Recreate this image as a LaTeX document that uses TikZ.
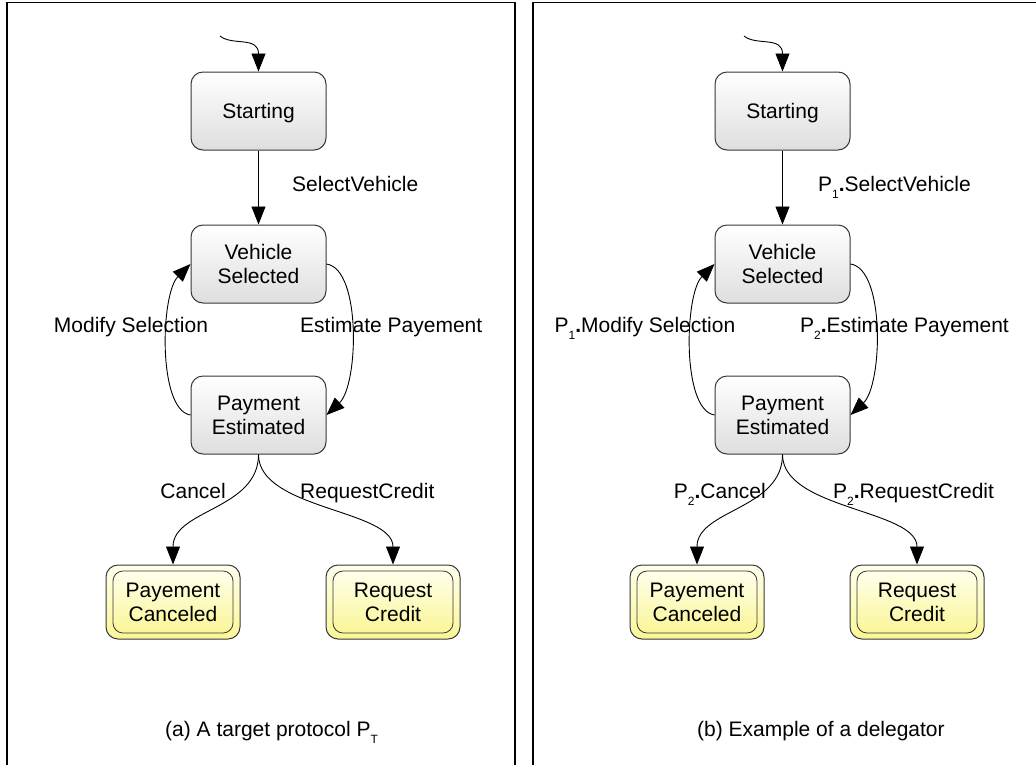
\documentclass[tikz,border=0pt]{standalone}
\usepackage{fontspec}
\setmainfont{Liberation Sans}
\usetikzlibrary{arrows.meta}

\definecolor{edgegray}{RGB}{55,55,55}
\definecolor{stateBot}{RGB}{222,222,222}
\definecolor{finTop}{RGB}{255,255,236}
\definecolor{finBot}{RGB}{250,246,150}

\newcommand\lowsub[1]{\raisebox{-7pt}{\fontsize{12}{12}\selectfont #1}}

\tikzset{
  txt/.style={font=\fontsize{21}{24}\selectfont},
  state/.style={txt, draw=edgegray, line width=1pt, rounded corners=12pt,
    minimum width=135pt, minimum height=78pt, inner sep=0pt, align=center,
    top color=white, bottom color=stateBot},
  finalout/.style={draw=edgegray, line width=1pt, rounded corners=12pt,
    minimum width=134pt, minimum height=74pt, inner sep=0pt,
    top color=finTop, bottom color=finBot},
  finalin/.style={txt, draw=edgegray, line width=0.8pt, rounded corners=10pt,
    minimum width=120pt, minimum height=62pt, inner sep=0pt, align=center,
    top color=finTop, bottom color=finBot},
  trans/.style={draw=black, line width=0.9pt, -{Triangle[length=18pt,width=14pt]}},
  lbl/.style={txt, inner sep=0pt},
  frame/.style={draw=black, line width=1.5pt}
}

\begin{document}
\begin{tikzpicture}[x=1pt, y=-1pt]
\useasboundingbox (0,0) rectangle (1036,764);

% panel frames, open at the bottom
\draw[frame] (7,780) -- (7,2.5) -- (515,2.5) -- (515,780);
\draw[frame] (533,780) -- (533,2.5) -- (1050,2.5);

% ---------- (a) target protocol ----------
\node[state, text depth=0pt] (aSt) at (258.5,111) {Starting};
\node[state] (aVs) at (258.5,264) {Vehicle\\Selected};
\node[state] (aPe) at (258.5,415) {Payment\\Estimated};
\node[finalout] (aPc) at (173,602) {};
\node[finalin] (aPcIn) at (173,602) {Payement\\Canceled};
\node[finalout] (aRc) at (393,602) {};
\node[finalin] (aRcIn) at (393,602) {Request\\Credit};

\coordinate (aInit) at (220,36);
\draw[trans] (aInit) .. controls (232,46) and (258.5,36) .. (aSt.north);
\draw[trans] (aSt.south) -- (aVs.north);
\draw[trans] (aPe.west) .. controls +(-33,-5) and +(-30,30) .. (aVs.west);
\draw[trans] (aVs.east) .. controls +(35,5) and +(32,-30) .. (aPe.east);
\draw[trans] (aPe.south) .. controls +(0,55) and +(0,-55) .. (aPc.north);
\draw[trans] (aPe.south) .. controls +(0,55) and +(0,-55) .. (aRc.north);

\node[lbl, anchor=base west] (aL1) at (292,191) {SelectVehicle};
\node[lbl, anchor=base] (aL2) at (131,332) {Modify Selection};
\node[lbl, anchor=base west] (aL3) at (300,332) {Estimate Payement};
\node[lbl, anchor=base east] (aL4) at (226,498) {Cancel};
\node[lbl, anchor=base west] (aL5) at (300,498) {RequestCredit};
\node[lbl, anchor=base west] (aCap) at (165,736) {(a) A target protocol P\lowsub{T}};

% ---------- (b) delegator ----------
\node[state, text depth=0pt] (bSt) at (782.5,111) {Starting};
\node[state] (bVs) at (782.5,264) {Vehicle\\Selected};
\node[state] (bPe) at (782.5,415) {Payment\\Estimated};
\node[finalout] (bPc) at (697,602) {};
\node[finalin] (bPcIn) at (697,602) {Payement\\Canceled};
\node[finalout] (bRc) at (917,602) {};
\node[finalin] (bRcIn) at (917,602) {Request\\Credit};

\coordinate (bInit) at (744,36);
\draw[trans] (bInit) .. controls (756,46) and (782.5,36) .. (bSt.north);
\draw[trans] (bSt.south) -- (bVs.north);
\draw[trans] (bPe.west) .. controls +(-33,-5) and +(-30,30) .. (bVs.west);
\draw[trans] (bVs.east) .. controls +(35,5) and +(32,-30) .. (bPe.east);
\draw[trans] (bPe.south) .. controls +(0,55) and +(0,-55) .. (bPc.north);
\draw[trans] (bPe.south) .. controls +(0,55) and +(0,-55) .. (bRc.north);

\node[lbl, anchor=base west] (bL1) at (818,191) {P\lowsub{1}\textbf{.}SelectVehicle};
\node[lbl, anchor=base] (bL2) at (645,332) {P\lowsub{1}\textbf{.}Modify Selection};
\node[lbl, anchor=base west] (bL3) at (800,332) {P\lowsub{2}\textbf{.}Estimate Payement};
\node[lbl, anchor=base east] (bL4) at (766,498) {P\lowsub{2}\textbf{.}Cancel};
\node[lbl, anchor=base west] (bL5) at (833,498) {P\lowsub{2}\textbf{.}RequestCredit};
\node[lbl, anchor=base west] (bCap) at (697,736) {(b) Example of a delegator};
\end{tikzpicture}
\end{document}
